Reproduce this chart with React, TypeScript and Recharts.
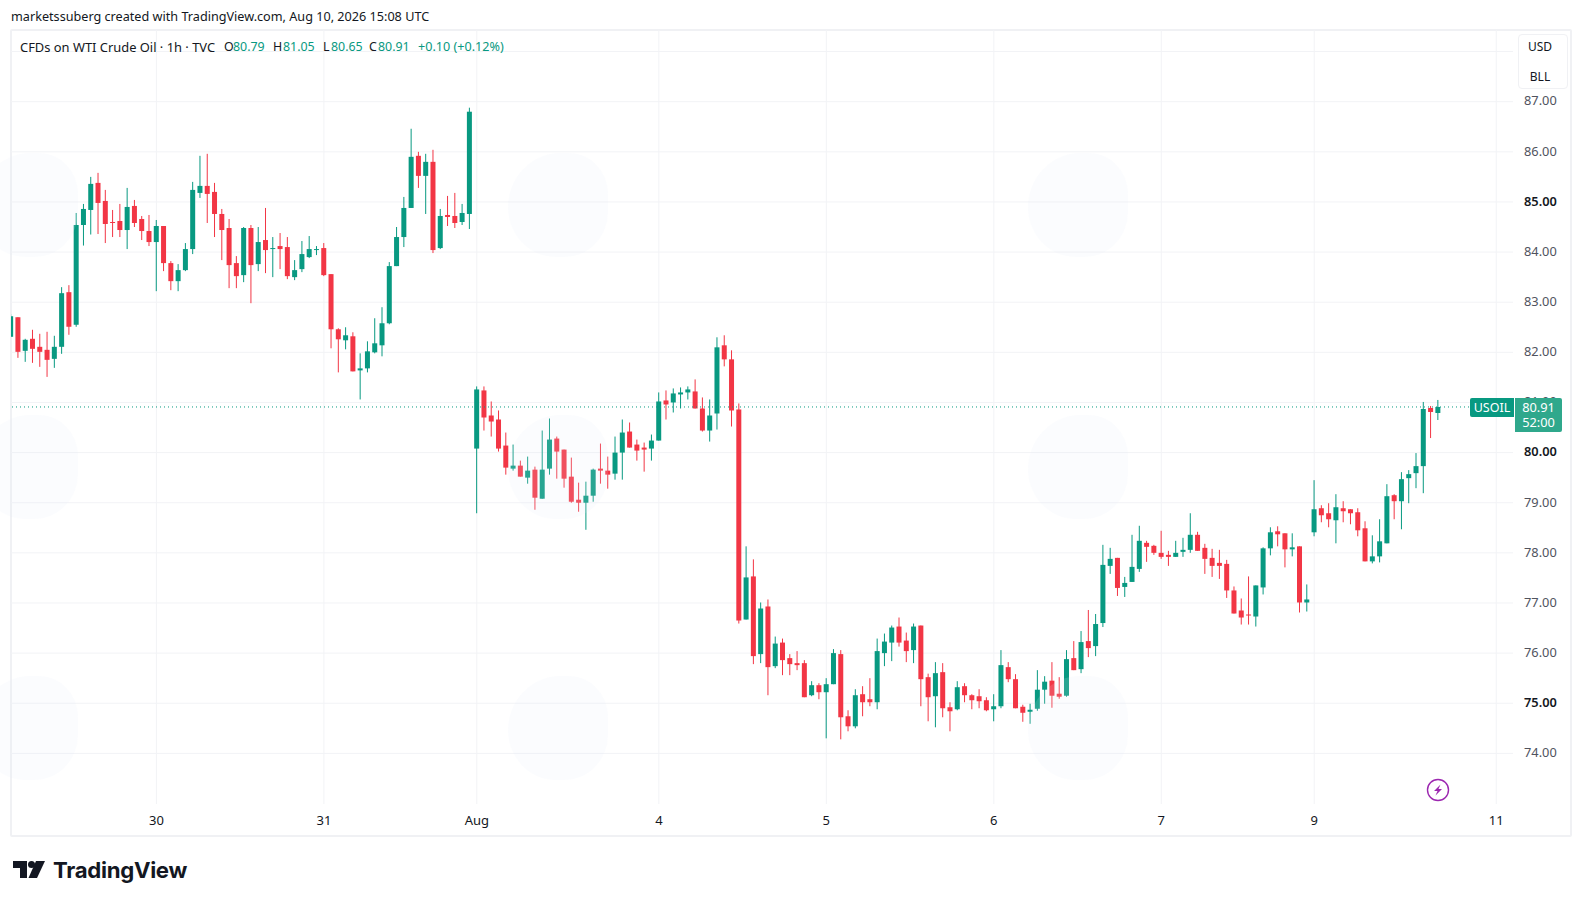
import { Bar, CartesianGrid, ComposedChart, ReferenceLine, XAxis, YAxis } from "recharts";

const opens = [
  82.31, 82.70, 82.03, 82.27, 82.11, 82.05, 81.87, 82.11, 83.20, 82.55, 84.54, 84.84, 85.38, 85.02, 84.60, 84.62, 84.44, 84.92, 84.66, 84.42,
  84.20, 84.52, 83.78, 83.42, 83.64, 84.06, 85.18, 85.32, 85.20, 84.76, 84.48, 83.78, 83.54, 84.48, 83.76, 84.24, 84.06, 84.12, 84.10, 83.50,
  83.66, 83.90, 84.04, 84.08, 83.56, 82.46, 82.24, 82.32, 81.64, 81.68, 82.00, 82.14, 82.58, 83.72, 84.30, 84.88, 85.92, 85.52, 85.80, 84.08,
  84.74, 84.72, 84.60, 84.76, 80.08, 81.24, 80.74, 80.66, 80.14, 79.68, 79.74, 79.50, 79.66, 79.08, 79.68, 80.28, 80.06, 79.52, 79.06, 79.00,
  79.14, 79.68, 79.64, 79.58, 80.00, 80.42, 80.16, 80.10, 80.08, 80.24, 81.04, 81.00, 81.16, 81.20, 81.22, 80.88, 80.44, 80.78, 82.14, 81.86,
  80.86, 76.67, 77.53, 75.98, 76.93, 75.74, 76.21, 75.90, 75.80, 75.80, 75.16, 75.36, 75.22, 75.38, 75.98, 74.74, 74.54, 75.18, 75.08, 75.02,
  76.00, 76.21, 76.53, 76.25, 76.06, 76.55, 75.52, 75.14, 75.62, 74.92, 74.88, 75.34, 75.16, 75.14, 75.06, 74.88, 74.94, 75.72, 75.48, 74.93,
  74.83, 74.89, 75.27, 75.45, 75.19, 75.15, 75.90, 75.68, 76.24, 76.14, 76.60, 77.74, 77.90, 77.32, 77.42, 77.68, 78.20, 78.14, 78.00, 77.96,
  77.92, 78.02, 78.06, 78.36, 78.10, 77.90, 77.80, 77.78, 77.25, 76.85, 76.77, 76.73, 77.31, 78.09, 78.43, 78.39, 78.07, 78.13, 77.01, 78.41,
  78.89, 78.79, 78.65, 78.89, 78.87, 78.81, 78.49, 77.83, 77.93, 78.19, 79.15, 79.03, 79.49, 79.59, 79.73, 80.89, 80.79,
];
const highs = [
  82.76, 82.70, 82.27, 82.45, 82.37, 82.41, 82.33, 83.30, 83.34, 84.78, 84.96, 85.50, 85.58, 85.24, 84.84, 84.96, 85.28, 85.04, 84.72, 84.74,
  84.64, 84.52, 83.82, 83.76, 84.18, 85.40, 85.92, 85.96, 85.38, 84.86, 84.66, 83.92, 84.50, 84.54, 84.50, 84.88, 84.30, 84.38, 84.30, 83.84,
  84.22, 84.32, 84.12, 84.18, 83.56, 82.48, 82.50, 82.40, 81.98, 82.22, 82.68, 82.90, 83.80, 84.50, 85.10, 86.46, 86.00, 85.96, 86.04, 84.86,
  85.12, 85.18, 84.96, 86.88, 81.32, 81.32, 81.02, 80.84, 80.40, 80.16, 79.84, 79.92, 79.72, 80.44, 80.68, 80.32, 80.06, 79.90, 79.40, 79.42,
  79.68, 80.18, 79.92, 80.32, 80.66, 80.60, 80.26, 80.20, 80.36, 81.20, 81.24, 81.28, 81.30, 81.32, 81.46, 81.10, 81.06, 82.30, 82.34, 82.04,
  80.98, 78.13, 77.87, 77.01, 77.07, 76.33, 76.29, 75.98, 76.04, 75.86, 75.44, 75.40, 75.50, 76.08, 76.06, 74.86, 75.28, 75.34, 75.50, 76.29,
  76.39, 76.55, 76.71, 76.41, 76.59, 76.55, 75.59, 75.82, 75.80, 75.02, 75.44, 75.40, 75.18, 75.28, 75.12, 75.18, 76.06, 75.82, 75.58, 74.97,
  74.99, 75.66, 75.54, 75.82, 75.52, 76.06, 76.24, 76.44, 76.86, 76.78, 78.16, 78.10, 77.90, 77.52, 78.36, 78.54, 78.24, 78.16, 78.44, 78.04,
  78.24, 78.30, 78.79, 78.42, 78.18, 78.08, 78.06, 77.86, 77.33, 77.09, 77.53, 77.35, 78.11, 78.51, 78.53, 78.39, 78.39, 78.13, 77.37, 79.45,
  78.95, 78.99, 79.17, 79.03, 78.87, 78.89, 78.63, 78.35, 78.67, 79.37, 79.17, 79.61, 79.65, 79.99, 81.01, 80.93, 81.05,
];
const lows = [
  82.31, 81.89, 81.81, 81.79, 81.71, 81.51, 81.69, 81.97, 82.35, 82.51, 84.13, 84.35, 84.36, 84.18, 84.30, 84.30, 84.06, 84.50, 84.24, 84.12,
  83.22, 83.62, 83.24, 83.22, 83.62, 83.96, 85.08, 84.58, 84.30, 83.84, 83.28, 83.28, 83.40, 82.98, 83.62, 83.58, 83.50, 83.66, 83.46, 83.44,
  83.60, 83.88, 83.94, 83.52, 82.08, 81.60, 82.06, 81.62, 81.06, 81.60, 81.98, 81.92, 82.56, 83.72, 84.10, 84.88, 85.28, 84.76, 83.98, 84.06,
  84.52, 84.48, 84.54, 84.46, 78.79, 80.44, 80.32, 80.02, 79.56, 79.64, 79.52, 79.38, 78.86, 79.08, 79.56, 79.48, 79.30, 79.00, 78.82, 78.46,
  79.02, 79.38, 79.28, 79.46, 79.46, 80.10, 79.84, 79.62, 79.84, 80.24, 80.66, 80.80, 80.88, 81.06, 80.88, 80.42, 80.22, 80.46, 81.72, 80.52,
  76.59, 76.67, 75.78, 75.80, 75.16, 75.70, 75.56, 75.56, 75.66, 75.12, 75.14, 75.08, 74.30, 75.38, 74.28, 74.44, 74.50, 74.74, 74.94, 74.88,
  75.74, 75.84, 76.13, 75.82, 75.80, 74.94, 74.64, 74.52, 74.72, 74.44, 74.86, 75.02, 74.88, 74.90, 74.84, 74.64, 74.90, 75.42, 74.90, 74.63,
  74.59, 74.85, 74.99, 74.91, 75.09, 75.13, 75.66, 75.60, 75.92, 75.94, 76.52, 77.58, 77.14, 77.12, 77.42, 77.62, 77.82, 77.96, 77.88, 77.74,
  77.92, 77.92, 78.00, 78.04, 77.58, 77.52, 77.48, 77.10, 76.79, 76.57, 76.57, 76.53, 77.17, 77.95, 78.13, 77.71, 77.93, 76.81, 76.83, 78.33,
  78.61, 78.51, 78.19, 78.61, 78.57, 78.33, 77.83, 77.79, 77.81, 78.19, 78.67, 78.47, 78.99, 79.29, 79.19, 80.29, 80.65,
];
const closes = [
  82.72, 82.01, 82.25, 82.07, 82.01, 81.85, 82.11, 83.18, 82.51, 84.54, 84.86, 85.36, 84.98, 84.56, 84.58, 84.44, 84.90, 84.58, 84.42, 84.20,
  84.52, 83.78, 83.42, 83.64, 84.06, 85.24, 85.32, 85.16, 84.76, 84.44, 83.74, 83.52, 84.48, 83.74, 84.20, 84.04, 84.08, 84.06, 83.52, 83.64,
  83.96, 84.06, 84.06, 83.54, 82.46, 82.26, 82.34, 81.62, 81.68, 82.02, 82.18, 82.58, 83.72, 84.30, 84.88, 85.90, 85.52, 85.80, 84.04, 84.72,
  84.70, 84.58, 84.78, 86.80, 81.26, 80.70, 80.62, 80.08, 79.70, 79.74, 79.52, 79.64, 79.10, 79.66, 80.26, 80.02, 79.48, 79.02, 79.00, 79.14,
  79.66, 79.64, 79.56, 80.00, 80.40, 80.10, 80.04, 80.06, 80.24, 81.02, 80.96, 81.18, 81.20, 81.26, 80.88, 80.44, 80.74, 82.10, 81.86, 80.84,
  76.65, 77.51, 75.94, 76.89, 75.72, 76.19, 75.86, 75.78, 75.76, 75.12, 75.36, 75.22, 75.38, 76.00, 74.72, 74.54, 75.16, 75.02, 75.02, 76.04,
  76.23, 76.51, 76.21, 76.04, 76.53, 75.48, 75.12, 75.60, 74.90, 74.84, 75.32, 75.16, 75.06, 75.04, 74.86, 74.94, 75.76, 75.48, 74.90, 74.81,
  74.87, 75.27, 75.43, 75.15, 75.13, 75.88, 75.66, 76.22, 76.10, 76.58, 77.76, 77.88, 77.30, 77.40, 77.72, 78.24, 78.12, 78.00, 77.92, 77.92,
  78.00, 78.06, 78.36, 78.04, 77.88, 77.74, 77.74, 77.25, 76.79, 76.71, 76.75, 77.35, 78.09, 78.41, 78.37, 78.07, 78.11, 77.01, 77.07, 78.87,
  78.75, 78.67, 78.91, 78.83, 78.79, 78.45, 77.83, 77.93, 78.23, 79.13, 79.03, 79.47, 79.57, 79.73, 80.87, 80.81, 80.91,
];

const priceTicks = [74, 75, 76, 77, 78, 79, 80, 81, 82, 83, 84, 85, 86, 87, 88];
const boldPrices = [75, 80, 85];
// 88 keeps its gridline, its label sits under the currency box
const hiddenPrices = [88];
const timeTicks = [20, 43, 64, 89, 112, 135, 158, 179, 204];
const timeLabels = ["30", "31", "Aug", "4", "5", "6", "7", "9", "11"];
const lastPrice = 80.91;

const UP = "#089981";
const DOWN = "#f23645";
const GRID = "#f2f3f6";
const TEXT = "#131722";
const FONT = "'Noto Sans', sans-serif";

const data = opens.map((open, i) => ({
  i,
  open,
  close: closes[i],
  range: [lows[i], highs[i]],
}));

// corps + mèche, à partir du rectangle low/high donné par la Bar
function Candle(props: any) {
  const { x, y, width, height, payload } = props;
  const [low, high] = payload.range;
  const k = height / (high - low);
  const top = y + (high - Math.max(payload.open, payload.close)) * k;
  const bottom = y + (high - Math.min(payload.open, payload.close)) * k;
  const color = payload.close >= payload.open ? UP : DOWN;
  const mid = x + width / 2;
  return (
    <g>
      <line x1={mid} x2={mid} y1={y} y2={y + height} stroke={color} strokeWidth={1} />
      <rect x={x} y={top} width={width} height={Math.max(bottom - top, 1)} fill={color} />
    </g>
  );
}

function PriceTick({ x, y, payload }: any) {
  if (hiddenPrices.includes(payload.value)) return null;
  const bold = boldPrices.includes(payload.value);
  return (
    <text
      x={x}
      y={y}
      dy={3.8}
      fontSize={12.8}
      fontFamily={FONT}
      fontWeight={bold ? 600 : 400}
      fill={bold ? TEXT : "#50535e"}
    >
      {payload.value.toFixed(2)}
    </text>
  );
}

const abs = (left: number, top: number, extra = {}) => ({
  position: "absolute" as const,
  left,
  top,
  lineHeight: "16px",
  whiteSpace: "nowrap" as const,
  ...extra,
});

const legendParts: [number, string, string, number][] = [
  [20, "CFDs on WTI Crude Oil · 1h · TVC", TEXT, 12.9],
  [224, "O", TEXT, 12.4],
  [233, "80.79", UP, 12.4],
  [273, "H", TEXT, 12.4],
  [283, "81.05", UP, 12.4],
  [323, "L", TEXT, 12.4],
  [331, "80.65", UP, 12.4],
  [369, "C", TEXT, 12.4],
  [378, "80.91", UP, 12.4],
  [418, "+0.10 (+0.12%)", UP, 12.6],
];

const blobColumns = [28, 558, 1078];
const blobRows = [205, 467, 728];

export default function App() {
  return (
    <div
      style={{
        position: "absolute",
        left: 0,
        top: 0,
        width: 1582,
        height: 902,
        background: "#fff",
        fontFamily: FONT,
        fontSize: 12,
        color: TEXT,
        overflow: "hidden",
      }}
    >
      <div style={abs(11, 8, { fontSize: 12.65 })}>
        marketssuberg created with TradingView.com, Aug 10, 2026 15:08 UTC
      </div>
      <div
        style={{
          position: "absolute",
          left: 10,
          top: 29,
          width: 1558,
          height: 804,
          border: "2px solid #f0f1f4",
          borderRadius: 2,
        }}
      />
      <div style={{ position: "absolute", left: 0, top: 0 }}>
        <ComposedChart
          width={1582}
          height={902}
          data={data}
          margin={{ top: 30, right: 9, bottom: 68, left: 11 }}
        >
          <CartesianGrid stroke={GRID} strokeWidth={1} syncWithTicks />
          <XAxis
            dataKey="i"
            type="number"
            domain={[0.03, 206.3]}
            allowDataOverflow
            ticks={timeTicks}
            tickFormatter={(v) => timeLabels[timeTicks.indexOf(v)]}
            height={30}
            axisLine={false}
            tickLine={false}
            tickMargin={6}
            interval={0}
            tick={{ fontSize: 13, fill: TEXT, fontFamily: FONT }}
          />
          <YAxis
            orientation="right"
            type="number"
            domain={[72.99, 88.43]}
            ticks={priceTicks}
            width={60}
            axisLine={false}
            tickLine={false}
            tickMargin={5}
            interval={0}
            tick={<PriceTick />}
          />
          <ReferenceLine y={lastPrice} stroke={UP} strokeDasharray="1 3" strokeWidth={1} />
          <Bar
            dataKey="range"
            barSize={5}
            shape={<Candle />}
            isAnimationActive={false}
          />
        </ComposedChart>
      </div>

      {/* filigrane TradingView, très pâle */}
      {blobColumns.map((cx) =>
        blobRows.map((cy) => (
          <div
            key={`${cx}-${cy}`}
            style={{
              position: "absolute",
              left: cx - 50,
              top: cy - 52,
              width: 100,
              height: 104,
              borderRadius: "60% 45% 50% 55%",
              background: "rgba(225,235,250,0.15)",
              pointerEvents: "none",
            }}
          />
        ))
      )}

      {legendParts.map(([left, label, color, size]) => (
        <div key={left} style={abs(left, 39, { color, fontSize: size })}>
          {label}
        </div>
      ))}

      <div
        style={{
          position: "absolute",
          left: 1518,
          top: 34,
          width: 50,
          height: 55,
          background: "#fff",
          border: "1px solid #f0f1f4",
          borderRadius: 4,
          boxSizing: "border-box",
        }}
      />
      <div style={abs(1518, 39, { width: 44, textAlign: "center" })}>USD</div>
      <div style={abs(1518, 69, { width: 44, textAlign: "center" })}>BLL</div>

      <div
        style={{
          position: "absolute",
          left: 1470,
          top: 398,
          width: 44,
          height: 19,
          background: UP,
          borderRadius: "2px 0 0 2px",
          color: "#fff",
          fontSize: 12.5,
          lineHeight: "19px",
          textAlign: "center",
        }}
      >
        USOIL
      </div>
      <div
        style={{
          position: "absolute",
          left: 1515,
          top: 398,
          width: 47,
          height: 34,
          background: "#2fa88c",
          borderRadius: "0 2px 2px 0",
          color: "#fff",
          fontSize: 12.8,
          lineHeight: "15px",
          paddingTop: 2,
          boxSizing: "border-box",
          textAlign: "center",
        }}
      >
        80.91
        <br />
        52:00
      </div>

      <svg style={{ position: "absolute", left: 1426, top: 778 }} width={24} height={24}>
        <circle cx={12} cy={12} r={10.5} fill="none" stroke="#9c27b0" strokeWidth={1.4} />
        <path d="M14.5 6.5 L8 13 H11.5 L9.5 17.5 L16 11 H12.5 Z" fill="#9c27b0" />
      </svg>

      <svg style={{ position: "absolute", left: 13, top: 860 }} width={34} height={20}>
        <path d="M0 1 H14 V18 H7 V8 H0 Z" fill={TEXT} />
        <circle cx={18.5} cy={4.5} r={3.5} fill={TEXT} />
        <path d="M23 1 H32 L24 18 H15.5 Z" fill={TEXT} />
      </svg>
      <div
        style={{
          position: "absolute",
          left: 53,
          top: 853,
          fontSize: 22.2,
          fontWeight: 700,
          lineHeight: "34px",
          letterSpacing: -0.3,
          fontFamily: "Inter, sans-serif",
        }}
      >
        TradingView
      </div>
    </div>
  );
}
